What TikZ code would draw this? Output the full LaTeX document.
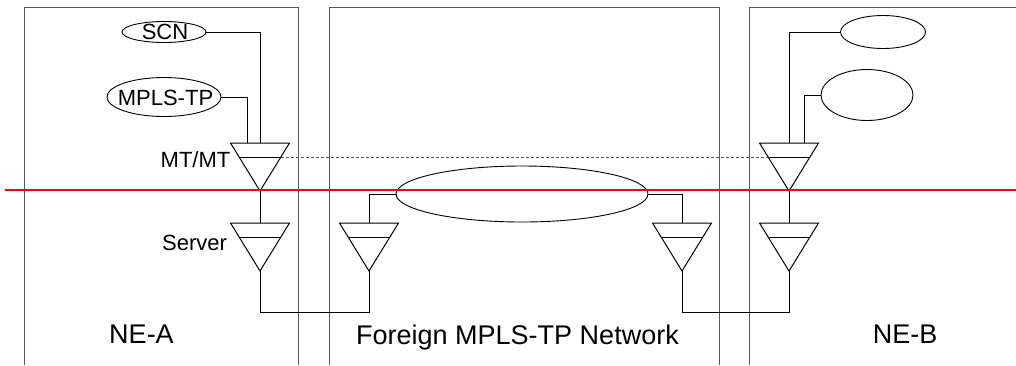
\documentclass[tikz,border=0pt]{standalone}
\usepackage{fontspec}
\setmainfont{Liberation Sans}
\usetikzlibrary{shapes.geometric}

\begin{document}
\begin{tikzpicture}[x=1pt, y=-1pt,
    frame/.style={draw=black!65, line width=1pt},
    link/.style={draw=black, line width=1pt},
    oval/.style={ellipse, draw=black, line width=0.9pt, inner sep=0pt},
    lbl/.style={anchor=base, inner sep=0pt, font=\fontsize{22}{26}\selectfont},
    big/.style={anchor=base, inner sep=0pt, font=\fontsize{27}{32}\selectfont},
    tsym/.pic={
        \draw[link] (-29.5,0) -- (29.5,0) -- (0,48) -- cycle;
        \draw[link] (-20.9,14) -- (20.9,14);
        \coordinate (-top) at (0,0);
        \coordinate (-tip) at (0,48);
        \coordinate (-il) at (-20.9,14);
        \coordinate (-ir) at (20.9,14);
    }
]
    \useasboundingbox (0,0) rectangle (1016,365);

    % the three domains
    \draw[frame] (24,365) -- (24,7) -- (298,7) -- (298,365);
    \draw[frame] (329,365) -- (329,7) -- (719,7) -- (719,365);
    \draw[frame] (749,365) -- (749,7) -- (1016,7);

    % clients
    \node[oval, minimum width=84, minimum height=21] (scn) at (164,32) {};
    \node[oval, minimum width=114, minimum height=39] (mpls) at (164,97) {};
    \node[oval, minimum width=85, minimum height=33] (ne1) at (883,32) {};
    \node[oval, minimum width=92, minimum height=51] (ne2) at (867,95) {};
    \node[oval, minimum width=252, minimum height=56] (cloud) at (522,194) {};

    % adaptation functions
    \pic (mt) at (260,143) {tsym};
    \pic (srv) at (260,223) {tsym};
    \pic (fa) at (369,223) {tsym};
    \pic (fb) at (682,223) {tsym};
    \pic (nb1) at (789,143) {tsym};
    \pic (nb2) at (789,223) {tsym};

    % labels
    \node[lbl] (tscn) at (165,39) {SCN};
    \node[lbl] (tmpls) at (165.5,105) {MPLS-TP};
    \node[lbl] (tmt) at (195.5,167) {MT/MT};
    \node[lbl] (tsrv) at (194.5,250) {Server};
    \node[big] (tnea) at (141.5,343) {NE-A};
    \node[big] (tfor) at (517.5,344) {Foreign MPLS-TP Network};
    \node[big] (tneb) at (905,343) {NE-B};

    % links
    \draw[link] (scn.east) -| (mt-top);
    \draw[link] (mpls.east) -| ([xshift=-13pt]mt-top);
    \draw[link] (ne1.west) -| (nb1-top);
    \draw[link] (ne2.west) -| ([xshift=15pt]nb1-top);
    \draw[link] (mt-tip) -- (srv-top);
    \draw[link] (nb1-tip) -- (nb2-top);
    \draw[link] (srv-tip) -- ++(0,41) -| (fa-tip);
    \draw[link] (fb-tip) -- ++(0,41) -| (nb2-tip);
    \draw[link] (fa-top) |- (cloud.west);
    \draw[link] (fb-top) |- (cloud.east);
    \draw[draw=black!70, line width=0.6pt, dash pattern=on 3pt off 2pt] (mt-ir) -- (nb1-il);

    % red cut
    \coordinate (cutl) at (5,190);
    \coordinate (cutr) at (1016,190);
    \draw[red, line width=2pt] (cutl) -- (cutr);
\end{tikzpicture}
\end{document}
